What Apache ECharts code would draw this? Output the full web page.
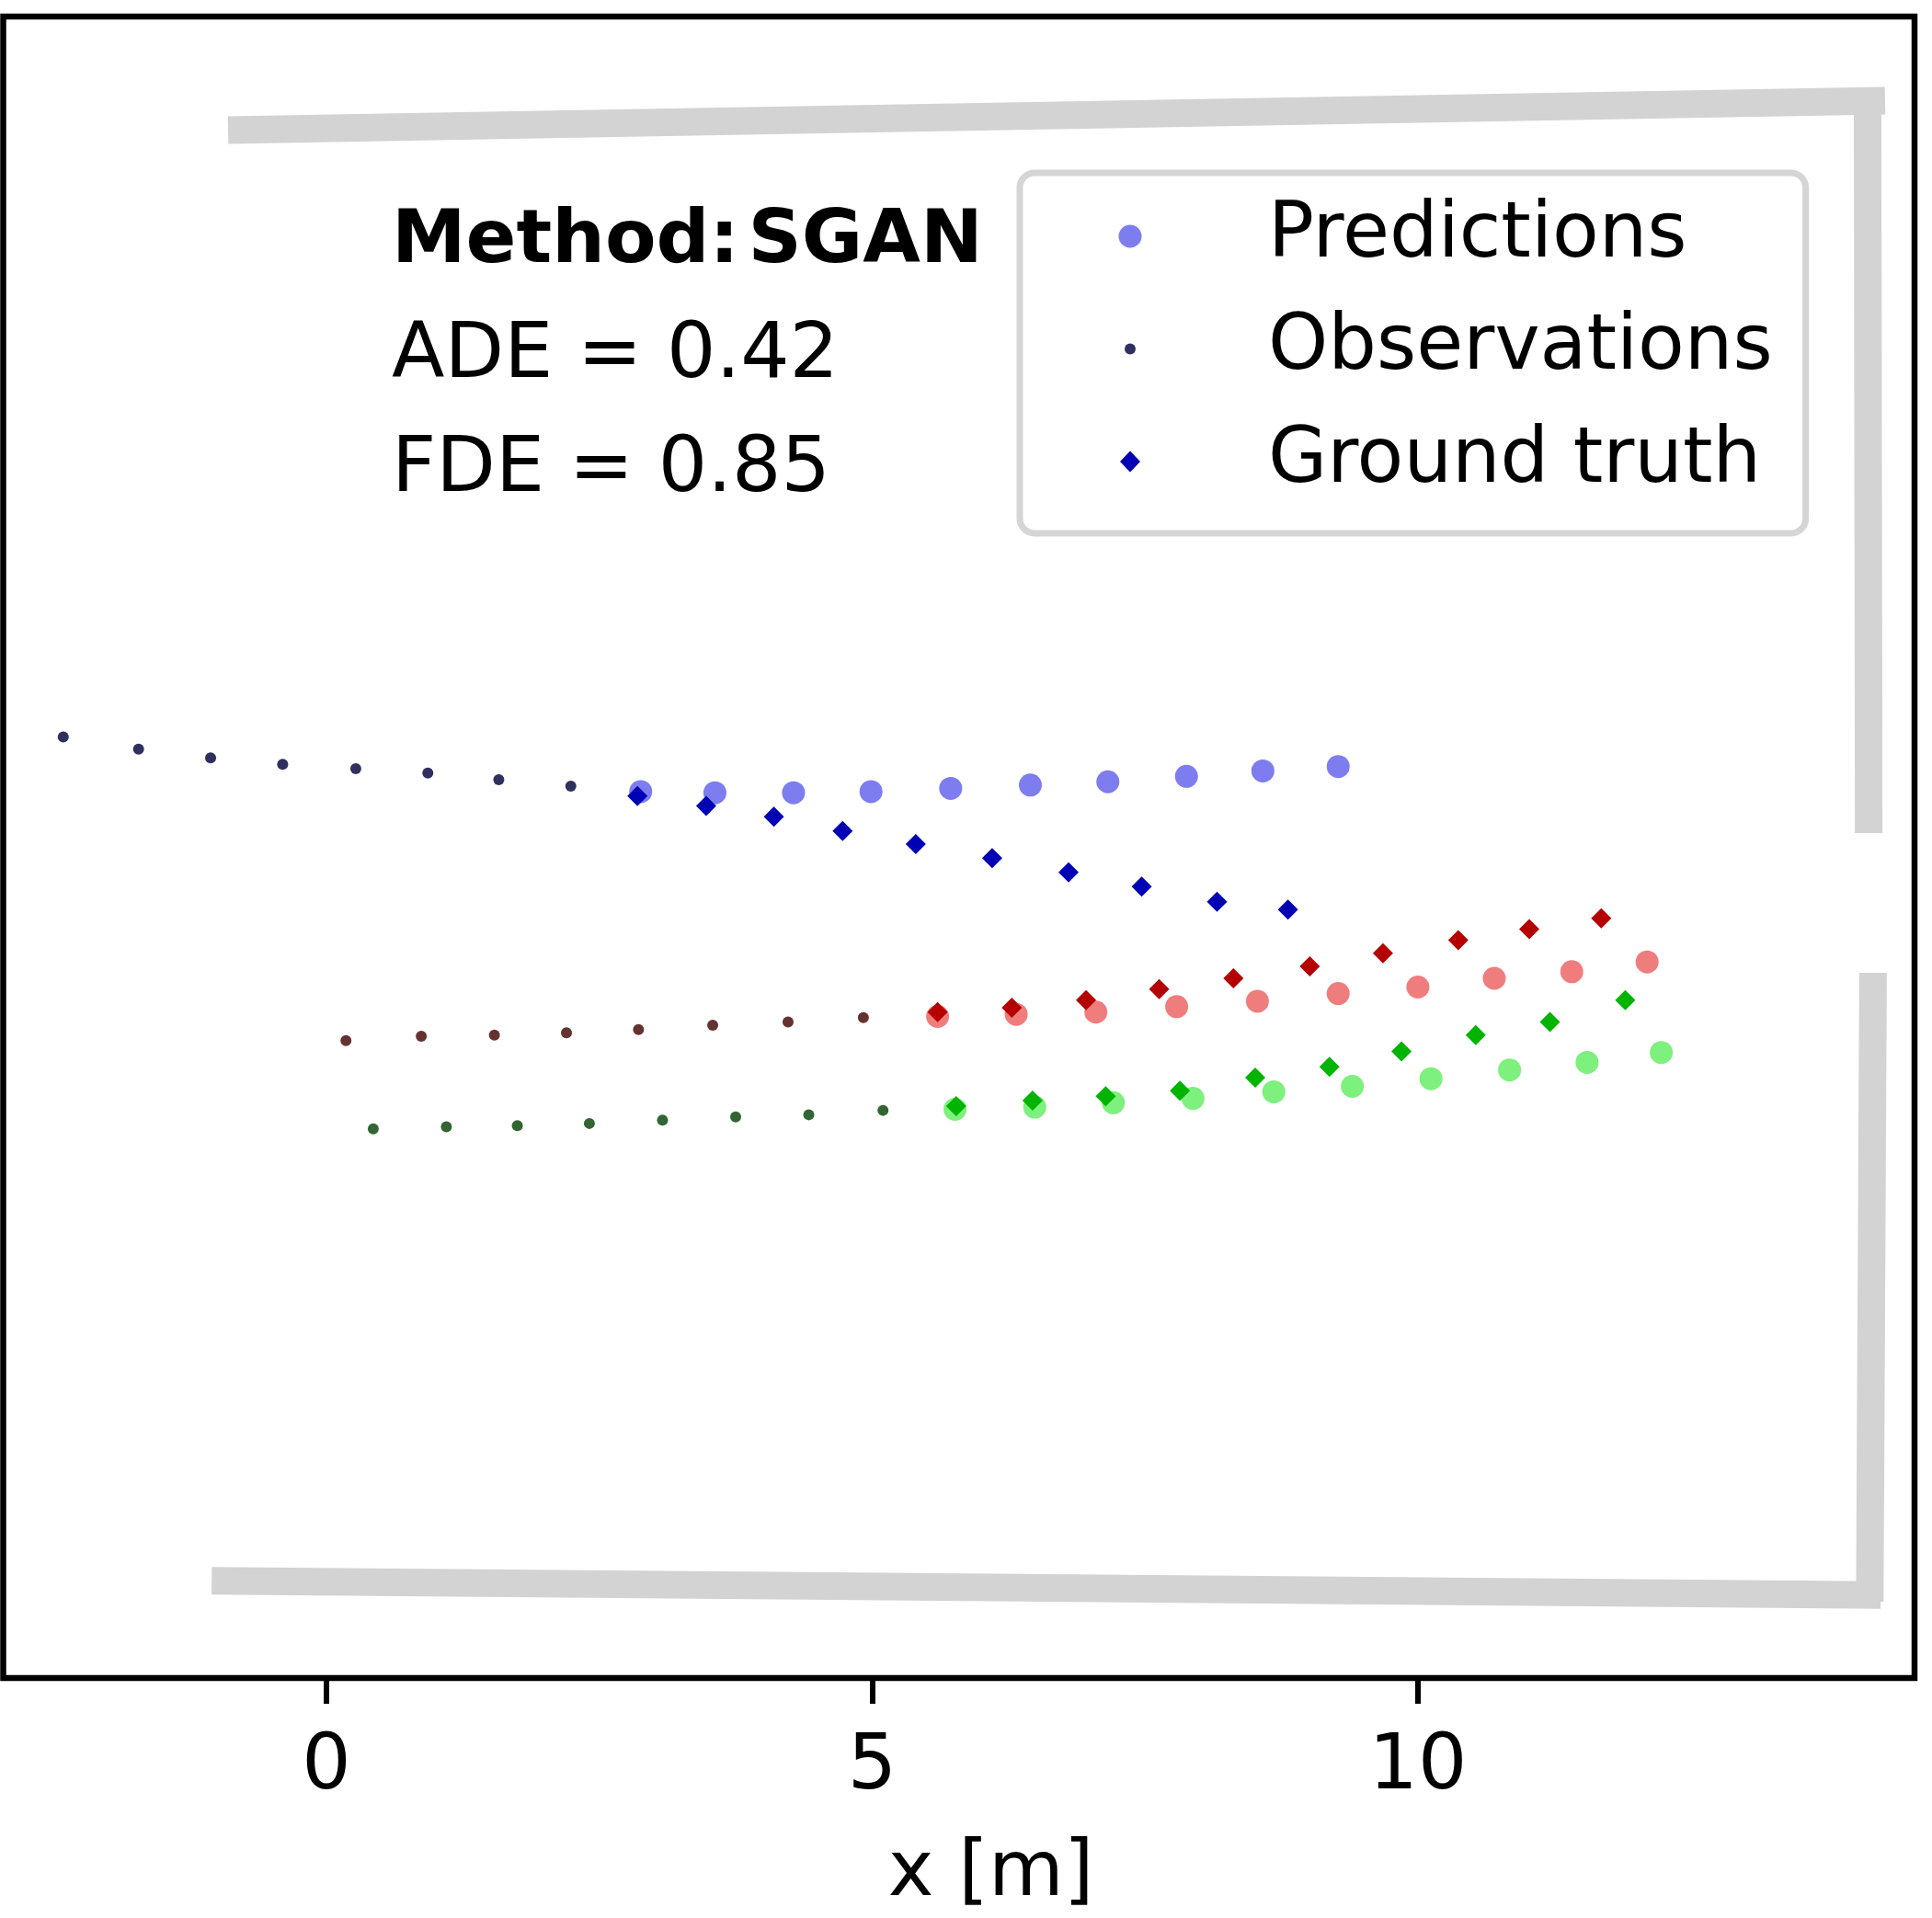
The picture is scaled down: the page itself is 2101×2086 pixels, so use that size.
<!DOCTYPE html>
<html>
<head>
<meta charset="utf-8">
<script src="https://cdn.jsdelivr.net/npm/echarts@6/dist/echarts.min.js"></script>
<style>
  html, body { margin: 0; padding: 0; background: #fff; }
  #chart { width: 2101px; height: 2086px; }
</style>
</head>
<body>
<div id="chart"></div>
<script>
// trajectories in metres, [x, y]
const blueObs = [[-2.41, 8.62], [-1.72, 8.51], [-1.06, 8.43], [-0.40, 8.37], [0.27, 8.33], [0.93, 8.29], [1.58, 8.23], [2.24, 8.17]];
const bluePred = [[2.88, 8.12], [3.56, 8.11], [4.28, 8.11], [4.99, 8.12], [5.72, 8.15], [6.45, 8.18], [7.16, 8.21], [7.88, 8.26], [8.58, 8.31], [9.27, 8.35]];
const blueGt = [[2.85, 8.08], [3.48, 7.99], [4.10, 7.89], [4.73, 7.76], [5.40, 7.64], [6.10, 7.51], [6.80, 7.38], [7.47, 7.25], [8.16, 7.11], [8.81, 7.04]];

const redObs = [[0.18, 5.84], [0.87, 5.88], [1.54, 5.89], [2.20, 5.91], [2.86, 5.94], [3.54, 5.98], [4.23, 6.01], [4.92, 6.05]];
const redPred = [[5.60, 6.06], [6.32, 6.08], [7.05, 6.10], [7.79, 6.15], [8.53, 6.20], [9.27, 6.27], [10.00, 6.33], [10.70, 6.41], [11.41, 6.47], [12.10, 6.56]];
const redGt = [[5.60, 6.10], [6.28, 6.14], [6.96, 6.21], [7.63, 6.31], [8.31, 6.41], [9.01, 6.52], [9.68, 6.64], [10.37, 6.76], [11.02, 6.86], [11.68, 6.96]];

const greenObs = [[0.43, 5.03], [1.10, 5.05], [1.75, 5.06], [2.41, 5.08], [3.08, 5.11], [3.75, 5.14], [4.42, 5.16], [5.10, 5.20]];
const greenPred = [[5.76, 5.21], [6.49, 5.23], [7.21, 5.27], [7.94, 5.31], [8.68, 5.37], [9.40, 5.42], [10.12, 5.49], [10.84, 5.57], [11.55, 5.64], [12.23, 5.73]];
const greenGt = [[5.77, 5.24], [6.47, 5.29], [7.14, 5.33], [7.82, 5.38], [8.51, 5.50], [9.19, 5.60], [9.85, 5.74], [10.53, 5.89], [11.21, 6.01], [11.90, 6.21]];

// scene walls
const topWall = [[-0.90, 14.18], [14.28, 14.45]];
const rightWallUpper = [[14.12, 14.37], [14.13, 7.74]];
const rightWallLower = [[14.17, 6.46], [14.14, 0.70]];
const bottomWall = [[-1.05, 0.89], [14.24, 0.76]];

const xTicks = [0, 5, 10];
const infoLines = ['Method: SGAN', 'ADE = 0.42', 'FDE = 0.85'];

const FONT = 'DejaVu Sans';
const chart = echarts.init(document.getElementById('chart'));

function wall(data) {
  return {
    type: 'line', data: data, showSymbol: false, silent: true,
    lineStyle: { color: '#d3d3d3', width: 30, cap: 'butt' }, z: 1
  };
}
function pts(name, data, color, size, symbol) {
  return {
    type: 'scatter', name: name, data: data, symbol: symbol || 'circle',
    symbolSize: size, itemStyle: { color: color, opacity: 1 }, z: 2
  };
}

function infoText(t, i) {
  const base = {
    type: 'text', x: 426, y: 264 + i * 124, z: 10,
    style: { fill: '#000', verticalAlign: 'middle', align: 'left' }
  };
  if (i === 0) {
    // bold title, narrow gap after the colon like the original
    const parts = t.split(' ');
    base.style.text = '{b|' + parts[0] + '}{s| }{b|' + parts[1] + '}';
    base.style.rich = {
      b: { fontFamily: FONT, fontWeight: 'bold', fontSize: 81, fill: '#000' },
      s: { fontFamily: FONT, fontSize: 30 }
    };
  } else {
    base.style.text = t;
    base.style.font = '84px "' + FONT + '"';
  }
  return base;
}

chart.setOption({
  animation: false,
  textStyle: { fontFamily: FONT },
  grid: { left: 3.5, right: 19, top: 18, bottom: 259, show: true, borderColor: '#000', borderWidth: 6.5 },
  xAxis: {
    type: 'value', min: -2.96, max: 14.55,
    name: 'x [m]', nameLocation: 'middle', nameGap: 172,
    nameTextStyle: { fontSize: 84, color: '#000', lineHeight: 84, padding: [0, 0, 0, 70] },
    axisLine: { show: false },
    axisTick: { show: true, length: 28, customValues: xTicks, lineStyle: { color: '#000', width: 6 } },
    axisLabel: { customValues: xTicks, fontSize: 84, color: '#000', margin: 56, lineHeight: 84 },
    splitLine: { show: false }
  },
  yAxis: {
    type: 'value', min: 0, max: 15.22,
    axisLine: { show: false }, axisTick: { show: false }, axisLabel: { show: false }, splitLine: { show: false }
  },
  legend: {
    orient: 'vertical', left: 1109, top: 188,
    itemWidth: 165, itemHeight: 25, itemGap: 28.5,
    padding: [22, 36, 31, 100],
    borderColor: '#d5d5d5', borderWidth: 7, borderRadius: 16, backgroundColor: '#fff',
    selectedMode: false,
    textStyle: { fontSize: 83, color: '#000', lineHeight: 84, fontFamily: FONT, padding: [10, 0, 0, 0] },
    data: [
      { name: 'Predictions', icon: 'path://M0 0M165 25M7.5 12.5A12.5 12.5 0 1 1 32.5 12.5A12.5 12.5 0 1 1 7.5 12.5Z' },
      { name: 'Observations', icon: 'path://M0 0M165 25M14 12.5A6 6 0 1 1 26 12.5A6 6 0 1 1 14 12.5Z' },
      { name: 'Ground truth', icon: 'path://M0 0M165 25M20 1L31 12.5L20 24L9 12.5Z' }
    ]
  },
  graphic: infoLines.map(infoText),
  series: [
    wall(topWall), wall(rightWallUpper), wall(rightWallLower), wall(bottomWall),
    pts('Observations', blueObs, '#30305e', 12),
    pts('Observations 2', redObs, '#653232', 12),
    pts('Observations 3', greenObs, '#326532', 12),
    pts('Predictions', bluePred, '#7d7df0', 25),
    pts('Predictions 2', redPred, '#f07d7d', 25),
    pts('Predictions 3', greenPred, '#7df07d', 25),
    pts('Ground truth', blueGt, '#0000b4', 22, 'diamond'),
    pts('Ground truth 2', redGt, '#b40000', 22, 'diamond'),
    pts('Ground truth 3', greenGt, '#00b400', 22, 'diamond')
  ]
});
</script>
</body>
</html>
